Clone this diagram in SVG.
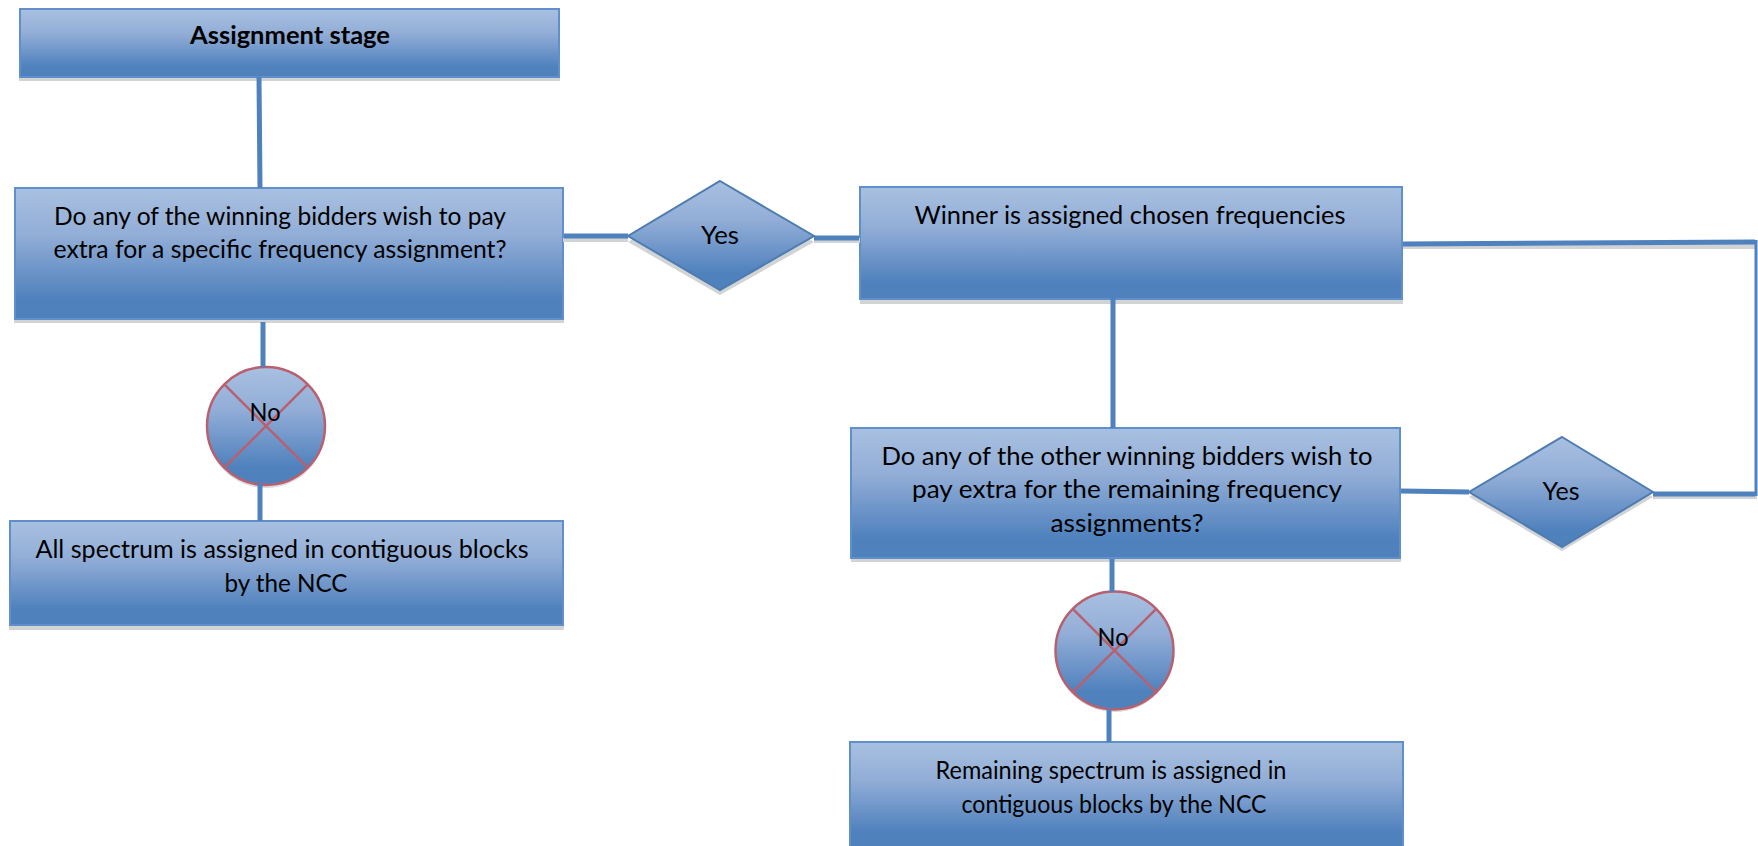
<svg xmlns="http://www.w3.org/2000/svg" width="1758" height="846" viewBox="0 0 1758 846">
<style>
.b{fill:url(#g);stroke:#5f90cc;stroke-width:2}
.s{fill:#d2d3d5}
.d{fill:url(#g);stroke:#4d7cb0;stroke-width:2}
.c{fill:url(#g);stroke:#b8606f;stroke-width:2.5}
.x{stroke:#b8606f;stroke-width:2.5;fill:none}
.l{stroke:#4f81bd;fill:none;stroke-width:5}
text{font-family:"Lato","Liberation Sans",sans-serif;font-size:25px;fill:#000;text-anchor:middle}
</style>
<defs>
<linearGradient id="g" x1="0" y1="0" x2="0" y2="1"><stop offset="0" stop-color="#a8c0e0"/><stop offset=".35" stop-color="#93aed7"/><stop offset=".85" stop-color="#4f81bd"/><stop offset="1" stop-color="#4f81bd"/></linearGradient>
</defs>
<rect width="1758" height="846" fill="#fff"/>
<g id="n1"><rect class="s" x="19" y="12" width="541" height="69"/><rect class="b" x="20" y="9" width="539" height="68"/><text x="290" y="44" font-weight="700" textLength="200" lengthAdjust="spacingAndGlyphs">Assignment stage</text></g>
<g id="n2"><rect class="s" x="14" y="192" width="550" height="131"/><rect class="b" x="15" y="188" width="548" height="131"/><text x="280" y="225" textLength="452" lengthAdjust="spacingAndGlyphs">Do any of the winning bidders wish to pay</text><text x="280" y="258" textLength="453" lengthAdjust="spacingAndGlyphs">extra for a specific frequency assignment?</text></g>
<g id="n3"><polygon class="s" points="720,185 814,242 720,295 628,242"/><polygon class="d" points="720,181 814,236 720,290 628,236"/><text x="720" y="244" textLength="38" lengthAdjust="spacingAndGlyphs">Yes</text></g>
<g id="n4"><rect class="s" x="860" y="191" width="543" height="113"/><rect class="b" x="860" y="187" width="542" height="112"/><text x="1130" y="224" textLength="431" lengthAdjust="spacingAndGlyphs">Winner is assigned chosen frequencies</text></g>
<g id="n5"><circle cx="266" cy="429" r="59" fill="#d8dadd"/><circle class="c" cx="266" cy="426" r="59"/><path class="x" d="M224.300 384.300L307.700 467.700M307.700 384.300L224.300 467.700"/><text x="265" y="421" textLength="31" lengthAdjust="spacingAndGlyphs">No</text></g>
<g id="n6"><rect class="s" x="9" y="525" width="555" height="105"/><rect class="b" x="10" y="521" width="553" height="104"/><text x="282" y="558" textLength="493" lengthAdjust="spacingAndGlyphs">All spectrum is assigned in contiguous blocks</text><text x="286" y="592" textLength="123" lengthAdjust="spacingAndGlyphs">by the NCC</text></g>
<g id="n7"><rect class="s" x="851" y="432" width="550" height="130"/><rect class="b" x="851" y="428" width="549" height="130"/><text x="1127" y="465" textLength="491" lengthAdjust="spacingAndGlyphs">Do any of the other winning bidders wish to</text><text x="1127" y="498" textLength="430" lengthAdjust="spacingAndGlyphs">pay extra for the remaining frequency</text><text x="1127" y="532" textLength="153" lengthAdjust="spacingAndGlyphs">assignments?</text></g>
<g id="n8"><polygon class="s" points="1562,441 1653,497 1562,551 1469,497"/><polygon class="d" points="1562,437 1653,492 1562,547 1469,492"/><text x="1561" y="500" textLength="37" lengthAdjust="spacingAndGlyphs">Yes</text></g>
<g id="n9"><circle cx="1114.500" cy="653" r="59" fill="#d8dadd"/><circle class="c" cx="1114.500" cy="650.500" r="59"/><path class="x" d="M1072.800 608.800L1156.200 692.200M1156.200 608.800L1072.800 692.200"/><text x="1113" y="646" textLength="31" lengthAdjust="spacingAndGlyphs">No</text></g>
<g id="n10"><rect class="b" x="850" y="742" width="553" height="106"/><text x="1111" y="779" textLength="351" lengthAdjust="spacingAndGlyphs">Remaining spectrum is assigned in</text><text x="1114" y="813" textLength="305" lengthAdjust="spacingAndGlyphs">contiguous blocks by the NCC</text></g>
<g id="connectors">
<path class="s" d="M1403 244h352v5h-352zM1653 495h104v4h-104zM563 238h65v4h-65zM814 238h46v5h-46z"/>
<path class="l" d="M259 77L260 188"/>
<path class="l" d="M263 322V367"/>
<path class="l" d="M260 484V521"/>
<path class="l" d="M564 236H628"/>
<path class="l" d="M814 238H859"/>
<path class="l" d="M1113 294V428"/>
<path class="l" d="M1403 244L1755 242"/>
<path class="l" d="M1401 491L1469 492"/>
<path class="l" d="M1653 494H1755"/>
<path class="l" d="M1112 559V592"/>
<path class="l" d="M1109 709V742"/>
<path class="l" d="M1756 240V496" style="stroke-width:3"/>
</g>
</svg>
